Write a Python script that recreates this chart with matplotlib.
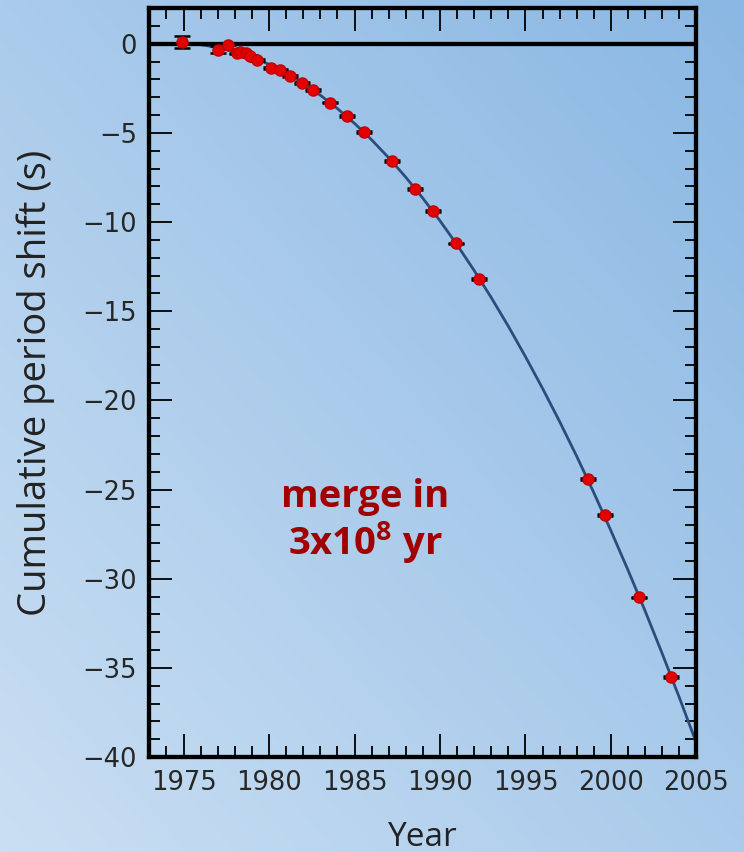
import numpy as np
import matplotlib.pyplot as plt
from matplotlib.colors import to_rgb
from matplotlib.ticker import MultipleLocator

# measured periastron shifts (year, seconds, error)
obs_years = [1974.9, 1977.0, 1977.6, 1978.1, 1978.3, 1978.65, 1978.9, 1979.3,
             1980.1, 1980.65, 1981.2, 1981.95, 1982.6, 1983.55, 1984.55, 1985.55,
             1987.2, 1988.55, 1989.6, 1990.95, 1992.3, 1998.65, 1999.65, 2001.65,
             2003.5]
obs_shift = [0.1, -0.35, -0.05, -0.55, -0.45, -0.55, -0.7, -0.9,
             -1.35, -1.45, -1.8, -2.2, -2.6, -3.3, -4.05, -4.95,
             -6.6, -8.15, -9.4, -11.2, -13.2, -24.4, -26.45, -31.05,
             -35.5]
obs_err = [0.35, 0.2, 0.05, 0.05, 0.05, 0.05, 0.05, 0.05,
           0.05, 0.05, 0.05, 0.05, 0.05, 0.05, 0.05, 0.05,
           0.05, 0.05, 0.05, 0.05, 0.05, 0.05, 0.05, 0.05,
           0.05]

# general relativity prediction, one value per year
gr_years = list(range(1975, 2006))
gr_shift = [0.0, -0.06, -0.21, -0.44, -0.76, -1.16, -1.65, -2.23, -2.89, -3.64,
            -4.47, -5.39, -6.40, -7.49, -8.67, -9.93, -11.28, -12.72, -14.24,
            -15.85, -17.55, -19.33, -21.19, -23.14, -25.18, -27.31, -29.52,
            -31.81, -34.20, -36.66, -39.22]

x_ticks = [1975, 1980, 1985, 1990, 1995, 2000, 2005]
y_ticks = [0, -5, -10, -15, -20, -25, -30, -35, -40]

plt.rcParams["mathtext.fontset"] = "custom"
plt.rcParams["mathtext.bf"] = "Open Sans:bold"

fig = plt.figure(figsize=(7.44, 8.52), dpi=100)

# diagonal blue gradient behind everything
bg = fig.add_axes([0, 0, 1, 1], zorder=-1)
light = np.array(to_rgb("#cadff3"))
dark = np.array(to_rgb("#8ab7e3"))
gx, gy = np.meshgrid(np.linspace(0, 1, 200), np.linspace(0, 1, 200))
t = (gx + gy) / 2
img = light + (dark - light) * t[..., None]
bg.imshow(img, origin="lower", extent=[0, 1, 0, 1], aspect="auto")
bg.axis("off")

ax = fig.add_axes([0.2008, 0.1115, 0.7352, 0.8791])
ax.set_facecolor("none")

ax.plot(gr_years, gr_shift, color="#2b4d7e", lw=2.0, zorder=2)
ax.axhline(0, color="black", lw=3.1, zorder=3)
ax.errorbar(obs_years, obs_shift, yerr=obs_err, fmt="o", color="#e20000",
            markeredgecolor="#c40000", markersize=8, ecolor="black",
            elinewidth=1.3, capsize=5.5, capthick=1.8, zorder=4)

ax.set_xlim(1973, 2005)
ax.set_ylim(-40, 2)
ax.set_xticks(x_ticks)
ax.set_yticks(y_ticks)
ax.set_yticklabels(["0", "\u22125", "\u221210", "\u221215", "\u221220",
                    "\u221225", "\u221230", "\u221235", "\u221240"])
ax.xaxis.set_minor_locator(MultipleLocator(1))
ax.yaxis.set_minor_locator(MultipleLocator(1))
ax.tick_params(which="both", direction="in", top=True, right=True,
               color="black", width=1.3)
ax.tick_params(which="major", length=16.5, labelsize=18.5, pad=9)
ax.tick_params(which="minor", length=8)
for lab in ax.get_xticklabels() + ax.get_yticklabels():
    lab.set_family("DejaVu Sans")
    lab.set_color("#262626")
for s in ax.spines.values():
    s.set_linewidth(3.1)

ax.set_xlabel("Year", family="Open Sans", fontsize=24, color="#222222")
ax.xaxis.set_label_coords(0.5, -0.085)
ax.set_ylabel("Cumulative period shift (s)", family="Open Sans", fontsize=27.5,
              color="#222222")
ax.yaxis.set_label_coords(-0.172, 0.5)

ax.text(0.394, 0.314, "merge in\n3x10$^\\mathbf{8}$ yr", transform=ax.transAxes,
        family="Open Sans", weight="bold", fontsize=27.5, color="#a00000",
        ha="center", va="center", linespacing=1.1)

fig.savefig("out.png", dpi=100)
